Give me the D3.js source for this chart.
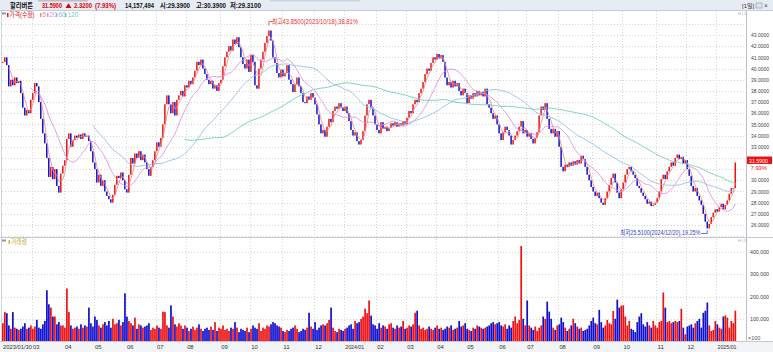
<!DOCTYPE html>
<html><head><meta charset="utf-8">
<script src="https://cdn.jsdelivr.net/npm/d3@7"></script>
<style>
body{margin:0;background:#fff;}
svg{display:block;font-family:"Liberation Sans Narrow","Liberation Sans",Arial,"Noto Sans CJK KR",sans-serif;}
</style></head><body><svg id="c" width="773" height="352"></svg>
<script>
// ---- DATA ----
const closes = [
40.6,41.0,40.3,38.4,39.0,38.5,39.2,38.7,38.9,37.8,
36.5,35.8,36.3,36.0,37.2,37.8,38.7,38.4,37.0,35.5,
34.2,33.3,32.0,30.3,31.2,30.1,31.0,29.5,28.9,30.6,
31.3,31.8,33.7,34.2,33.0,33.6,34.0,33.8,34.1,33.7,
34.2,33.9,34.0,33.5,32.6,31.6,31.0,29.8,30.5,29.5,
30.0,29.0,28.6,28.3,28.0,28.7,29.6,30.4,30.2,30.7,
30.0,29.2,28.9,30.5,32.0,31.5,32.4,32.0,32.6,31.8,
32.3,31.6,31.0,30.4,31.2,31.8,32.6,33.4,33.0,33.8,
35.0,36.8,37.6,36.8,36.0,37.0,35.8,37.2,37.6,38.0,
37.5,38.5,38.3,38.9,38.6,39.2,39.8,40.6,40.3,40.8,
40.0,39.5,39.0,38.6,38.9,38.2,38.5,38.0,38.7,39.0,
40.2,41.0,41.5,42.0,41.6,42.6,42.2,42.8,41.9,41.0,
40.4,40.0,40.8,39.7,41.2,40.6,38.5,38.2,40.0,40.8,
41.5,42.3,42.9,43.4,42.5,41.0,40.5,39.6,39.2,39.9,
39.3,39.6,40.3,39.0,38.6,37.9,38.6,39.2,38.4,37.8,
37.0,36.9,37.5,37.2,37.8,37.4,36.8,35.9,35.0,34.2,
34.5,33.9,34.8,35.5,35.2,36.2,36.6,36.4,36.9,36.5,
36.2,36.6,36.0,35.3,34.5,34.0,34.3,33.5,33.2,33.6,
34.4,35.8,36.8,37.2,36.5,35.8,35.0,34.5,34.2,35.2,
34.6,34.8,34.4,34.7,35.1,34.9,35.2,34.8,35.1,34.9,
35.3,35.0,35.6,36.2,36.0,36.8,37.2,37.0,37.8,38.2,
38.8,39.5,40.0,39.8,40.5,41.0,40.8,41.3,40.9,41.2,
40.6,39.2,38.5,38.8,38.3,38.9,38.4,38.7,38.0,37.6,
38.2,37.8,36.9,37.6,37.3,37.8,37.5,38.0,37.6,37.9,
37.5,38.2,36.8,36.5,36.0,35.5,35.8,35.0,34.2,33.6,
34.3,34.8,34.5,34.0,33.2,33.6,34.0,34.4,34.8,35.3,
34.2,34.5,33.9,34.2,33.7,33.3,33.8,34.3,35.8,36.6,
36.3,36.9,35.5,34.6,34.2,34.6,33.9,34.4,33.0,31.2,
30.8,31.4,31.2,31.6,31.3,31.7,31.4,31.8,31.5,32.2,
31.9,31.2,30.5,30.0,29.4,29.0,28.6,28.9,28.4,28.0,
27.8,28.4,29.0,29.6,30.2,30.6,29.8,28.9,28.4,29.2,
29.8,30.5,31.0,31.2,30.8,30.5,30.2,29.5,29.3,28.9,
28.6,28.3,27.9,28.1,27.7,27.8,28.0,28.4,29.0,30.1,
30.5,30.1,30.8,31.2,31.6,31.3,32.0,32.3,31.9,32.1,
31.5,31.8,31.0,30.4,29.5,29.0,29.3,28.6,28.2,27.8,
27.0,26.3,25.7,26.1,26.7,27.1,27.4,27.2,27.6,27.9,
27.4,27.8,28.2,28.8,29.3,29.3,31.59];

// volume in thousands (axis unit x100)
const volumes = [
80,130,125,70,55,130,60,55,50,55,
65,80,55,60,70,55,65,95,60,55,
75,90,228,165,150,110,110,75,85,70,
70,60,236,130,70,55,60,65,55,75,
60,70,65,150,80,65,110,95,70,60,
75,85,70,90,60,100,75,80,95,70,
85,214,110,90,80,70,105,55,75,70,
60,65,70,80,50,60,55,70,60,55,
132,130,70,60,160,110,75,65,80,70,
55,70,60,45,55,65,50,60,75,55,
45,55,60,50,65,50,85,45,60,55,
70,50,55,45,60,55,85,60,40,55,
50,45,60,40,55,70,60,55,80,45,
60,55,70,65,75,85,80,70,65,60,
45,40,50,45,55,60,70,55,40,45,
55,50,60,127,65,55,85,50,60,70,
75,70,80,95,150,60,45,40,55,50,
45,55,60,70,75,55,90,80,85,100,
110,145,125,182,114,75,70,55,80,60,
70,65,55,75,80,60,55,70,60,65,
90,55,60,70,65,75,127,136,70,55,
60,50,55,65,55,50,60,70,55,60,
50,55,65,60,70,50,55,60,90,65,
70,80,55,50,45,60,55,70,65,60,
55,60,65,70,80,85,75,80,85,70,
65,75,55,70,60,90,110,80,95,
427,100,70,182,70,60,50,65,45,60,70,
110,100,177,132,100,60,50,70,75,105,
85,60,45,55,70,100,80,65,55,60,
45,50,55,70,90,105,80,75,140,85,
60,70,95,80,75,135,100,186,150,159,
160,110,70,90,55,50,40,85,110,125,
75,65,85,70,60,90,70,60,85,90,
218,150,85,90,80,85,90,85,90,145,
60,30,65,70,75,60,80,90,100,60,
127,136,173,70,45,50,90,75,60,55,
110,115,105,60,90,80,136];

const priceTicks = [26,27,28,29,30,31,32,33,34,35,36,37,38,39,40,41,42,43];
const priceGrid = [25,26,27,28,29,30,31,32,33,34,35,36,37,38,39,40,41,42,43,44];
const volTicks = [100,200,300,400];
const monthLabels = ['2023/01/30','03','04','05','06','07','08','09','10','11','12','2024/01','02','03','04','05','06','07','08','09','10','11','12','2025/01'];
const monthIdx = [0,15,31,46,62,77,92,109,124,140,156,171,187,202,217,232,248,262,278,295,310,327,342,357];
const maWindows = [4,15,46,92];
const maNames = ['5','20','60','120'];
const lastPrice = 31.59;
const lastPct = '7.93%';
const highInfo = {idx:133, price:43.85, text:'최고43.8500(2023/10/18),38.81%'};
const lowInfo = {idx:352, price:25.51, text:'최저25.5100(2024/12/20),19.25%'};

// ---- DRAW ----
const N = Math.min(closes.length, volumes.length);
const svg = d3.select('#c');
const W=773,H=352;
const PT=11, PB=237, VB=341, AX=746;
const maColors = ['#f08a8a','#df8fe0','#8fbfe0','#6cceb0'];
const RED='#ee1111', BLUE='#1010d0';

svg.append('rect').attr('width',W).attr('height',H).attr('fill','#fff');

const x = d3.scaleBand().domain(d3.range(N)).range([2,736]).paddingInner(0.25);
const xc = i => x(i) + x.bandwidth()/2;
const y = d3.scaleLinear().domain([26,43]).range([225,35]);
const yv = d3.scaleLinear().domain([0,400]).range([VB,VB-89]);

// grids
const grid = svg.append('g').attr('stroke','#d6d6d6').attr('stroke-dasharray','1,2').attr('stroke-width',1);
grid.selectAll('.hp').data(priceGrid.filter(d=> y(d)>PT && y(d)<PB)).join('line')
  .attr('x1',2).attr('x2',AX).attr('y1',d=>Math.round(y(d))+0.5).attr('y2',d=>Math.round(y(d))+0.5);
grid.selectAll('.hv').data(volTicks).join('line')
  .attr('x1',2).attr('x2',AX).attr('y1',d=>Math.round(yv(d))+0.5).attr('y2',d=>Math.round(yv(d))+0.5);
grid.selectAll('.vv').data(monthIdx.slice(1)).join('line')
  .attr('x1',d=>Math.round(x(d))+0.5).attr('x2',d=>Math.round(x(d))+0.5).attr('y1',PT).attr('y2',VB);

// clip
svg.append('clipPath').attr('id','pc').append('rect').attr('x',2).attr('y',PT).attr('width',AX-2).attr('height',PB-PT);

const opens = closes.map((c,i)=> i>0 ? closes[i-1] : c);
const up = i => closes[i] >= opens[i];

// candles
const cg = svg.append('g').attr('clip-path','url(#pc)');
cg.selectAll('rect').data(d3.range(N)).join('rect')
  .attr('x',i=>x(i)).attr('width',x.bandwidth())
  .attr('y',i=>y(Math.max(opens[i],closes[i])))
  .attr('height',i=>Math.max(1, Math.abs(y(opens[i])-y(closes[i]))))
  .attr('fill',i=> up(i)?RED:BLUE);

// moving averages
maWindows.forEach((w,k)=>{
  const ma = closes.map((c,i)=> i<w-1 ? null : d3.mean(closes.slice(i-w+1,i+1)));
  const line = d3.line().defined(d=>d!=null).x((d,i)=>xc(i)).y(d=>y(d));
  cg.append('path').datum(ma).attr('d',line).attr('fill','none')
    .attr('stroke',maColors[k]).attr('stroke-width',0.9).attr('opacity',0.95);
});

// volume bars
svg.append('g').selectAll('rect').data(d3.range(N)).join('rect')
  .attr('x',i=>x(i)).attr('width',x.bandwidth()+0.2)
  .attr('y',i=>yv(volumes[i])).attr('height',i=>VB-yv(volumes[i]))
  .attr('fill',i=> up(i)?RED:BLUE);

// frames
svg.append('line').attr('x1',0).attr('x2',W).attr('y1',PB+0.5).attr('y2',PB+0.5).attr('stroke','#c4c9d4');
svg.append('rect').attr('x',0).attr('y',VB).attr('width',W).attr('height',H-VB).attr('fill','#f3f4f7');
svg.append('line').attr('x1',0).attr('x2',W).attr('y1',VB+0.5).attr('y2',VB+0.5).attr('stroke','#c4c9d4');
svg.append('line').attr('x1',AX+0.5).attr('x2',AX+0.5).attr('y1',PT).attr('y2',VB).attr('stroke','#b8c0cf');
svg.append('line').attr('x1',1.5).attr('x2',1.5).attr('y1',PT).attr('y2',VB).attr('stroke','#d0d4dc');

// header
svg.append('rect').attr('x',0).attr('y',0).attr('width',W).attr('height',10.5).attr('fill','#e7ebf3');
svg.append('line').attr('x1',0).attr('x2',W).attr('y1',10.5).attr('y2',10.5).attr('stroke','#c4cad8');
svg.append('rect').attr('x',38).attr('y',0).attr('width',50).attr('height',1.5).attr('fill','#b9c0cc');
svg.append('rect').attr('x',270).attr('y',0).attr('width',90).attr('height',1.5).attr('fill','#cfd5e0');
const hdr = [
  {t:'할리버튼',x:10,len:23,c:'#111'},
  {t:'31.5900',x:42,len:20,c:'#e00000'},
  {t:'2.3200',x:74,len:18,c:'#e00000'},
  {t:'(7.93%)',x:95,len:21,c:'#e00000'},
  {t:'14,157,494',x:125,len:29,c:'#111'},
  {t:'시:29.3900',x:160,len:30,c:'#111'},
  {t:'고:30.3900',x:196,len:30,c:'#111'},
  {t:'저:29.3100',x:230,len:31,c:'#111'}];
svg.append('g').selectAll('text').data(hdr).join('text')
  .attr('x',d=>d.x).attr('y',8.3).attr('font-size',7.2).attr('font-weight','bold')
  .attr('fill',d=>d.c).attr('textLength',d=>d.len).attr('lengthAdjust','spacingAndGlyphs').text(d=>d.t);
svg.append('path').attr('d','M65.5,8 L68.5,3.2 L71.5,8 Z').attr('fill','#e00000');
svg.append('text').attr('x',742).attr('y',7.8).attr('font-size',6).attr('fill','#333').text('[1일]');
svg.append('rect').attr('x',756).attr('y',3).attr('width',6).attr('height',5).attr('fill','#dfe4ee').attr('stroke','#8a93a6').attr('stroke-width',0.6);
svg.append('text').attr('x',764).attr('y',8).attr('font-size',6.5).attr('fill','#444').text('×');

// legend price
svg.append('rect').attr('x',2).attr('y',12.5).attr('width',4).attr('height',2).attr('fill','#8e96a6');
svg.append('rect').attr('x',7).attr('y',13).attr('width',1.5).attr('height',4).attr('fill','#e01010');
svg.append('text').attr('x',9.5).attr('y',17.3).attr('font-size',6.5).attr('fill','#e01010')
  .attr('textLength',25).attr('lengthAdjust','spacingAndGlyphs').text('가격(수정)');
const legX = [40,47,56,65];
maNames.forEach((n,k)=>{
  svg.append('rect').attr('x',legX[k]).attr('y',13).attr('width',1.5).attr('height',4).attr('fill',maColors[k]);
  svg.append('text').attr('x',legX[k]+2.5).attr('y',17.3).attr('font-size',6.5).attr('fill',maColors[k]).text(n);
});
svg.append('text').attr('x',738).attr('y',15).attr('font-size',4).attr('fill','#aaa').text('H | D');

// legend volume
svg.append('rect').attr('x',2).attr('y',239.5).attr('width',4).attr('height',2).attr('fill','#8e96a6');
svg.append('rect').attr('x',8.5).attr('y',240).attr('width',1.5).attr('height',4).attr('fill','#d8b838');
svg.append('text').attr('x',11).attr('y',244.3).attr('font-size',6.5).attr('fill','#c9a83a')
  .attr('textLength',16).attr('lengthAdjust','spacingAndGlyphs').text('거래량');
svg.append('text').attr('x',738).attr('y',241.5).attr('font-size',4).attr('fill','#aaa').text('H | D');

// price axis labels (those hidden under the last-price box are skipped)
const yLast = y(lastPrice);
svg.append('g').selectAll('text').data(priceTicks.filter(d=>Math.abs(y(d)-yLast)>7)).join('text')
  .attr('x',751).attr('y',d=>y(d)+2.2).attr('font-size',6).attr('fill','#444')
  .attr('textLength',18).attr('lengthAdjust','spacingAndGlyphs').text(d=>d.toFixed(4));
// volume axis labels
svg.append('g').selectAll('text').data(volTicks).join('text')
  .attr('x',750).attr('y',d=>yv(d)+2.2).attr('font-size',6).attr('fill','#444')
  .attr('textLength',19).attr('lengthAdjust','spacingAndGlyphs').text(d=>d3.format(',')(d*1000));
svg.append('text').attr('x',748).attr('y',340).attr('font-size',5.5).attr('fill','#555').text('×100');

// last price box
svg.append('rect').attr('x',747).attr('y',yLast-6).attr('width',25).attr('height',7.5).attr('fill','#ee1111');
svg.append('text').attr('x',749).attr('y',yLast).attr('font-size',6).attr('fill','#fff')
  .attr('textLength',19).attr('lengthAdjust','spacingAndGlyphs').text(lastPrice.toFixed(4));
svg.append('text').attr('x',767).attr('y',yLast+7).attr('text-anchor','end').attr('font-size',5.8).attr('fill','#ee1111').text(lastPct);

// date labels
const lblLen = s => s.length>=10 ? 29 : (s.length>=7 ? 19 : 6.5);
svg.append('g').selectAll('text').data(monthIdx).join('text')
  .attr('x',d=>x(d)+1).attr('y',348.8).attr('font-size',6).attr('fill','#333')
  .attr('textLength',(d,i)=>lblLen(monthLabels[i])).attr('lengthAdjust','spacingAndGlyphs')
  .text((d,i)=>monthLabels[i]);

// high / low annotations
const hx = xc(highInfo.idx), hy = y(highInfo.price);
svg.append('path').attr('d',`M${hx},${hy} V${hy-4} H${hx+4}`).attr('fill','none').attr('stroke','#ee3333').attr('stroke-width',0.8);
svg.append('text').attr('x',hx+3).attr('y',hy-2).attr('font-size',6.3).attr('fill','#ee3333')
  .attr('textLength',86).attr('lengthAdjust','spacingAndGlyphs').text(highInfo.text);
const lx = xc(lowInfo.idx), ly = y(lowInfo.price);
svg.append('path').attr('d',`M${lx-6},${ly+3} H${lx} V${ly}`).attr('fill','none').attr('stroke','#3344cc').attr('stroke-width',0.8);
svg.append('text').attr('x',lx-7).attr('y',ly+5).attr('text-anchor','end').attr('font-size',6.3).attr('fill','#3344cc')
  .attr('textLength',80).attr('lengthAdjust','spacingAndGlyphs').text(lowInfo.text);
</script></body></html>
